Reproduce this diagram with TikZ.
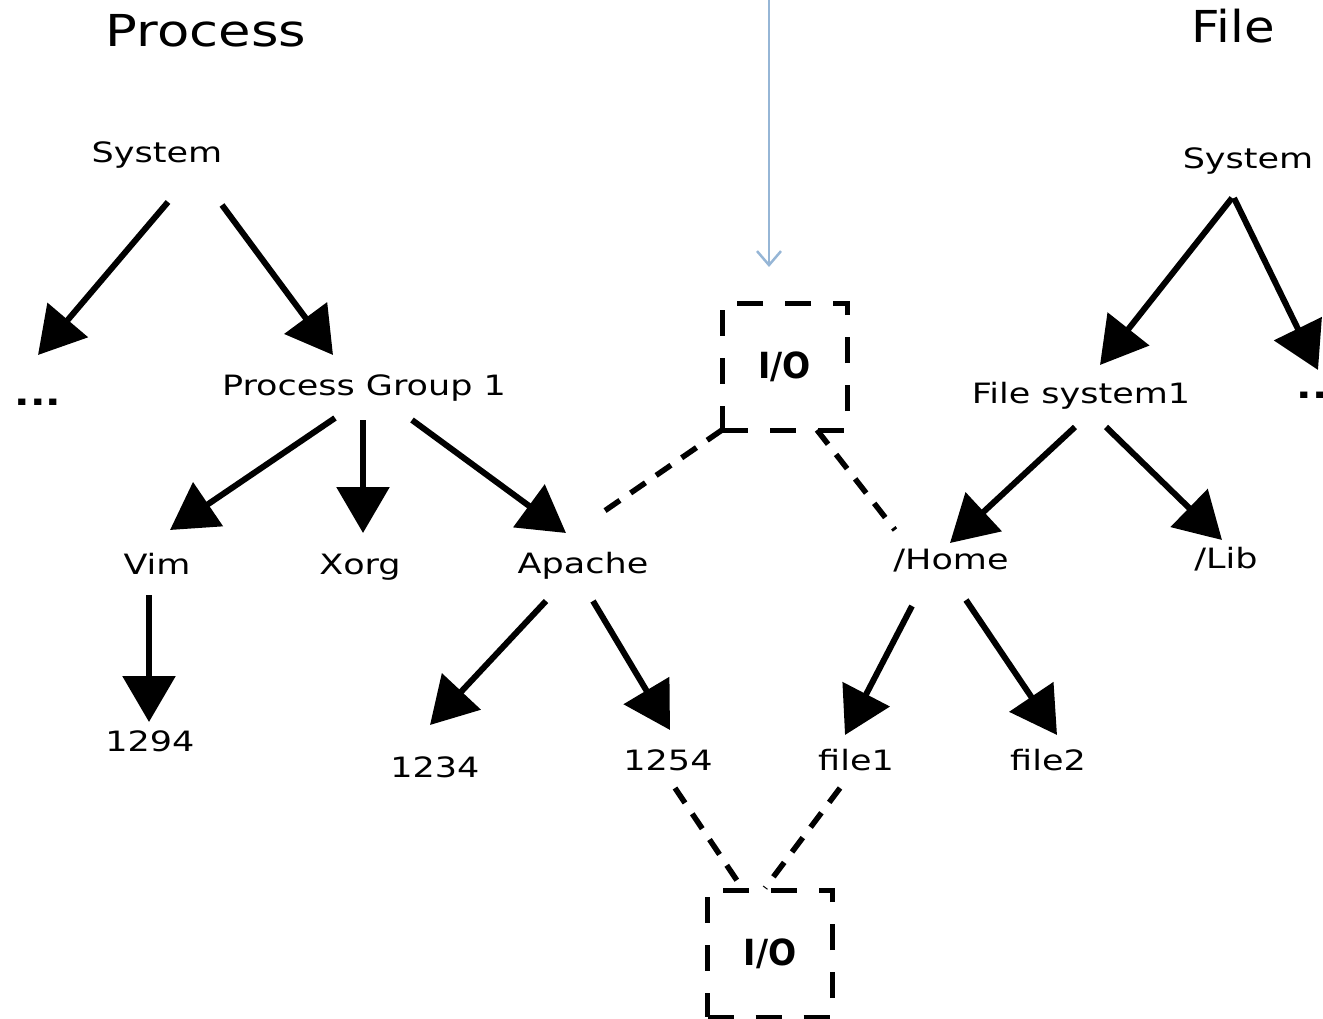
\documentclass[tikz,border=0pt]{standalone}
\usepackage{fontspec}
\setmainfont{DejaVu Sans}
\usepackage{graphicx}
\usetikzlibrary{arrows.meta}
\definecolor{feedblue}{RGB}{150,182,214}
\newcommand\stretchlbl[1]{\scalebox{1.25}[1]{#1}}
\tikzset{
 lbl/.style={inner sep=0pt, anchor=base, font=\fontsize{28}{33}\selectfont},
 ttl/.style={inner sep=0pt, anchor=base, font=\fontsize{44}{52}\selectfont},
 dotlbl/.style={inner sep=0pt, anchor=base, font=\fontsize{34}{40}\selectfont\bfseries},
 iobox/.style={draw, line width=5pt, dash pattern=on 26pt off 22pt, minimum width=125pt, minimum height=127pt, inner sep=0pt, font=\fontsize{36}{42}\selectfont\bfseries},
 bigarrow/.style={line width=6pt, -{Triangle[length=46pt,width=52pt]}},
 dashlink/.style={line width=5.5pt, dash pattern=on 18pt off 13pt},
 feedarrow/.style={feedblue, line width=2.5pt, -{Straight Barb[length=14pt,width=24pt]}}
}
\begin{document}
\begin{tikzpicture}[x=1pt,y=-1pt]
\useasboundingbox (0,0) rectangle (1323,1019);
% titles
\node[ttl] (tproc) at (206,47) {\scalebox{1.2}[1]{Process}};
\node[ttl] (tfile) at (1233,43) {\scalebox{1.13}[1]{File}};
% process tree
\node[lbl] (sysL) at (157,163) {\stretchlbl{System}};
\node[dotlbl] (dotsL) at (38,405) {\scalebox{1.2}[1]{...}};
\node[lbl] (pg) at (364,395) {\stretchlbl{Process Group 1}};
\node[lbl] (vim) at (157,574) {\stretchlbl{Vim}};
\node[lbl] (xorg) at (360,574) {\stretchlbl{Xorg}};
\node[lbl] (apache) at (583,573) {\stretchlbl{Apache}};
\node[lbl] (p1294) at (150,751) {\stretchlbl{1294}};
\node[lbl] (p1234) at (435,777) {\stretchlbl{1234}};
\node[lbl] (p1254) at (668,770) {\stretchlbl{1254}};
% file tree
\node[lbl] (sysR) at (1248,169) {\stretchlbl{System}};
\node[dotlbl] (dotsR) at (1320,398) {\scalebox{1.2}[1]{...}};
\node[lbl] (fs) at (1081,403) {\stretchlbl{File system1}};
\node[lbl] (home) at (951,569) {\stretchlbl{/Home}};
\node[lbl] (lib) at (1226,568) {\stretchlbl{/Lib}};
\node[lbl] (f1) at (856,770) {\stretchlbl{file1}};
\node[lbl] (f2) at (1048,770) {\stretchlbl{file2}};
% I/O boxes
\node[iobox] (ioT) at (784.5,366.5) {\scalebox{0.92}[1]{I/O}};
\node[iobox] (ioB) at (770,953.5) {\scalebox{0.92}[1]{I/O}};
% feed arrow
\coordinate (feed) at (769,0);
\draw[feedarrow] (feed) -- ([shift={(-15.5,-99.5)}]ioT.center);
% process arrows
\draw[bigarrow] ([shift={(11,39)}]sysL.base) -- ([shift={(0,-50)}]dotsL.base);
\draw[bigarrow] ([shift={(65,42)}]sysL.base) -- ([shift={(-31,-40)}]pg.base);
\draw[bigarrow] ([shift={(-29,23)}]pg.base) -- ([shift={(13,-44)}]vim.base);
\draw[bigarrow] ([shift={(-1,25)}]pg.base) -- ([shift={(3,-41)}]xorg.base);
\draw[bigarrow] ([shift={(48,25)}]pg.base) -- ([shift={(-17,-40)}]apache.base);
\draw[bigarrow] ([shift={(-8,21)}]vim.base) -- ([shift={(-1,-29)}]p1294.base);
\draw[bigarrow] ([shift={(-37,28)}]apache.base) -- ([shift={(-5,-52)}]p1234.base);
\draw[bigarrow] ([shift={(10,28)}]apache.base) -- ([shift={(2,-40)}]p1254.base);
% file arrows
\draw[bigarrow] ([shift={(-16,29)}]sysR.base) -- ([shift={(19,-38)}]fs.base);
\draw[bigarrow] ([shift={(-14,29)}]sysR.base) -- ([shift={(-2,-28)}]dotsR.base);
\draw[bigarrow] ([shift={(-6,24)}]fs.base) -- ([shift={(-1,-26)}]home.base);
\draw[bigarrow] ([shift={(25,24)}]fs.base) -- ([shift={(-4,-28)}]lib.base);
\draw[bigarrow] ([shift={(-39,37)}]home.base) -- ([shift={(-11,-35)}]f1.base);
\draw[bigarrow] ([shift={(15,31)}]home.base) -- ([shift={(9,-35)}]f2.base);
% dashed links
\draw[dashlink] ([shift={(-62.5,63.5)}]ioT.center) -- ([shift={(20,-61)}]apache.base);
\draw[dashlink] ([shift={(32.5,63.5)}]ioT.center) -- ([shift={(-56,-39)}]home.base);
\draw[dashlink] ([shift={(7,18)}]p1254.base) -- ([shift={(-28,-65.5)}]ioB.center);
\draw[dashlink] ([shift={(-16,18)}]f1.base) -- ([shift={(-5,-65.5)}]ioB.center);
\end{tikzpicture}
\end{document}
